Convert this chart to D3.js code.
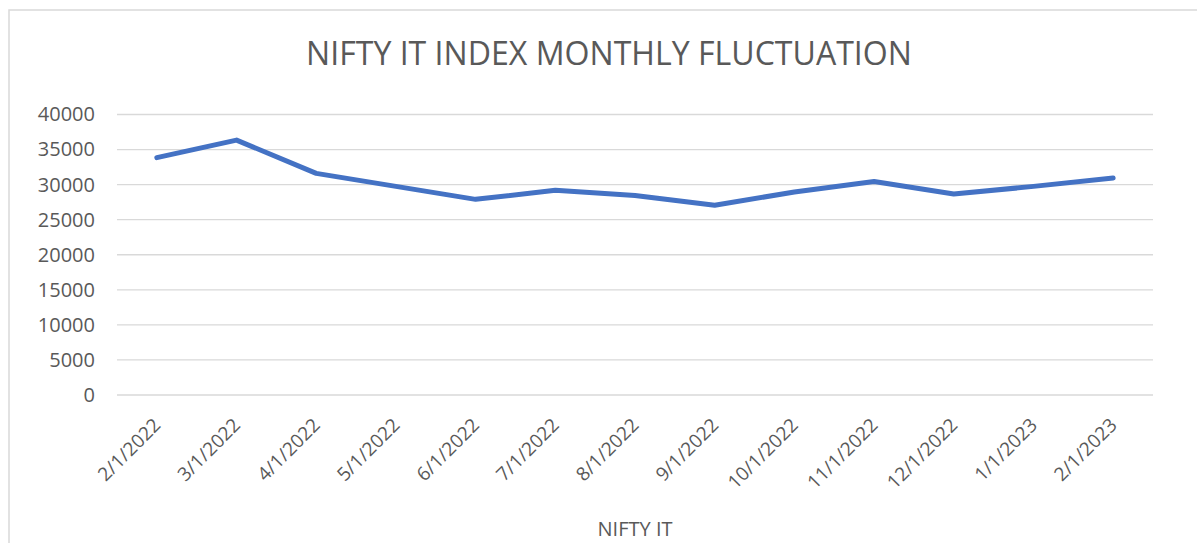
<!DOCTYPE html>
<html lang="en">
<head>
    <meta charset="UTF-8">
    <title>NIFTY IT Index Monthly Fluctuation</title>
    <script src="https://d3js.org/d3.v7.min.js"></script>
    <style>
        body {
            margin: 0;
            background: #fff;
            font-family: "Open Sans", "Liberation Sans", sans-serif;
        }
        .grid line {
            stroke: #d9d9d9;
            stroke-width: 1.3px;
        }
        .label {
            fill: #595959;
        }
    </style>
</head>
<body>
    <svg id="chart" width="1197" height="543"></svg>
    <script>
        // Chart data
        const months = ["2/1/2022", "3/1/2022", "4/1/2022", "5/1/2022", "6/1/2022", "7/1/2022",
            "8/1/2022", "9/1/2022", "10/1/2022", "11/1/2022", "12/1/2022", "1/1/2023", "2/1/2023"];
        const niftyIt = [33850, 36350, 31600, 29750, 27900, 29200, 28450, 27050, 28950, 30450, 28650, 29750, 30950];
        const yTicks = [0, 5000, 10000, 15000, 20000, 25000, 30000, 35000, 40000];

        const svg = d3.select("#chart");

        // Outer chart border (cropped at right and bottom like the source)
        svg.append("rect")
            .attr("x", 9).attr("y", 10)
            .attr("width", 1200).attr("height", 600)
            .attr("fill", "none")
            .attr("stroke", "#d9d9d9")
            .attr("stroke-width", 1.5);

        const plot = { left: 117, right: 1153, top: 114.5, bottom: 395 };

        const x = d3.scalePoint()
            .domain(months)
            .range([plot.left, plot.right])
            .padding(0.5);

        const y = d3.scaleLinear()
            .domain([0, 40000])
            .range([plot.bottom, plot.top]);

        // Gridlines
        svg.append("g")
            .attr("class", "grid")
            .selectAll("line")
            .data(yTicks)
            .join("line")
            .attr("x1", plot.left)
            .attr("x2", plot.right)
            .attr("y1", d => y(d))
            .attr("y2", d => y(d));

        // Y axis labels
        const yAxis = svg.append("g")
            .attr("transform", `translate(${plot.left - 22},0)`)
            .call(d3.axisLeft(y).tickValues(yTicks).tickSize(0).tickPadding(0).tickFormat(d3.format("d")));
        yAxis.select(".domain").remove();
        yAxis.selectAll("text")
            .style("font-size", "20px")
            .style("font-family", "'Open Sans', sans-serif")
            .attr("fill", "#595959");

        // X axis labels, rotated
        const xAxis = svg.append("g")
            .attr("transform", `translate(0,${plot.bottom})`)
            .call(d3.axisBottom(x).tickSize(0).tickPadding(0));
        xAxis.select(".domain").remove();
        xAxis.selectAll("text")
            .attr("fill", "#595959")
            .style("font-size", "19px")
            .style("font-family", "'Open Sans', sans-serif")
            .attr("text-anchor", "end")
            .attr("dy", "0.7em")
            .attr("transform", "translate(-5,22) rotate(-45)");

        // Line
        const line = d3.line()
            .x((d, i) => x(months[i]))
            .y(d => y(d));

        svg.append("path")
            .datum(niftyIt)
            .attr("fill", "none")
            .attr("stroke", "#4472c4")
            .attr("stroke-width", 5)
            .attr("stroke-linejoin", "round")
            .attr("stroke-linecap", "round")
            .attr("d", line);

        // Title
        const title = svg.append("text")
            .attr("class", "label")
            .attr("x", 609)
            .attr("y", 65)
            .attr("text-anchor", "middle")
            .style("font-size", "32px")
            .text("NIFTY IT INDEX MONTHLY FLUCTUATION");
        const tw = title.node().getComputedTextLength();
        title.style("font-size", (32 * 606 / tw) + "px");

        // Axis title / series label
        svg.append("text")
            .attr("class", "label")
            .attr("x", (plot.left + plot.right) / 2)
            .attr("y", 536)
            .attr("text-anchor", "middle")
            .style("font-size", "20px")
            .text("NIFTY IT");
    </script>
</body>
</html>
